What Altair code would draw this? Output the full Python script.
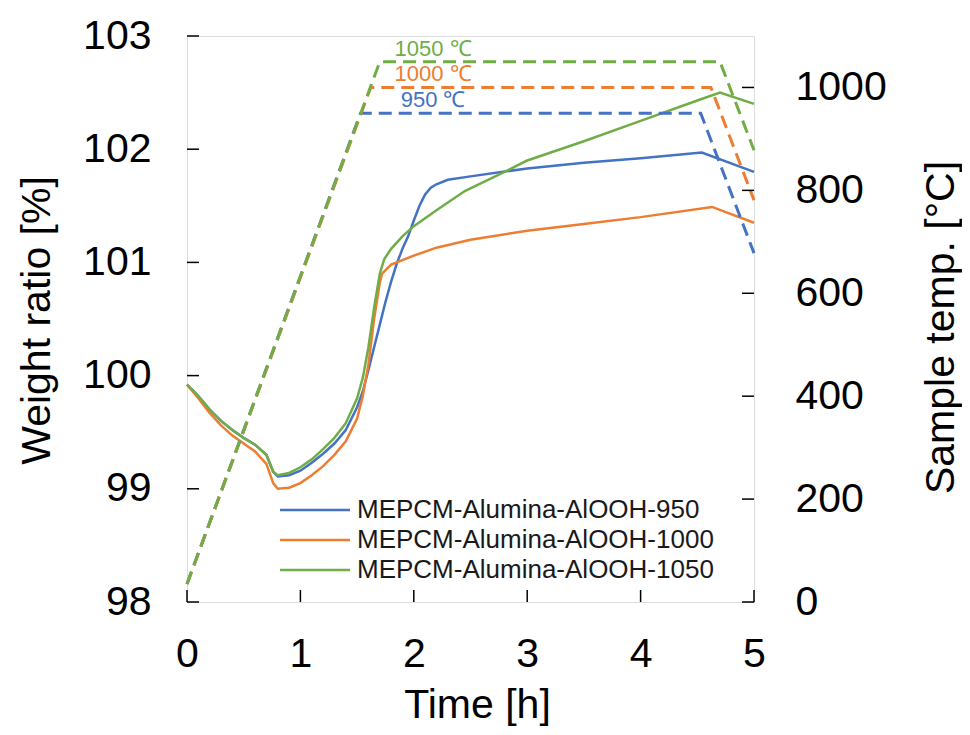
import altair as alt
import pandas as pd

# ---------------- data ----------------
series = ["MEPCM-Alumina-AlOOH-950", "MEPCM-Alumina-AlOOH-1000", "MEPCM-Alumina-AlOOH-1050"]
colors = ["#4472C4", "#ED7D31", "#70AD47"]

# weight ratio curves (time [h], weight [%])
t_950 = [0, 0.1, 0.2, 0.3, 0.4, 0.5, 0.6, 0.7, 0.76, 0.8, 0.9, 1.0, 1.1, 1.2, 1.3, 1.4, 1.5, 1.55,
         1.6, 1.65, 1.7, 1.75, 1.8, 1.85, 1.9, 1.95, 2.0, 2.05, 2.1, 2.15, 2.2, 2.3, 2.5, 3.0, 3.5,
         4.0, 4.54, 5.0]
w_950 = [99.92, 99.82, 99.70, 99.60, 99.52, 99.45, 99.39, 99.30, 99.15, 99.11, 99.12, 99.16, 99.23,
         99.31, 99.40, 99.52, 99.72, 99.86, 100.05, 100.25, 100.45, 100.65, 100.83, 100.99, 101.12,
         101.23, 101.37, 101.50, 101.60, 101.66, 101.69, 101.73, 101.76, 101.83, 101.88, 101.92,
         101.97, 101.80]

t_1000 = [0, 0.1, 0.2, 0.3, 0.4, 0.5, 0.6, 0.7, 0.76, 0.8, 0.9, 1.0, 1.1, 1.2, 1.3, 1.4, 1.5, 1.55,
          1.6, 1.65, 1.7, 1.72, 1.8, 1.9, 2.0, 2.2, 2.5, 3.0, 3.5, 4.0, 4.63, 5.0]
w_1000 = [99.92, 99.80, 99.67, 99.56, 99.47, 99.40, 99.33, 99.22, 99.05, 99.00, 99.01, 99.05,
          99.12, 99.20, 99.30, 99.42, 99.62, 99.82, 100.10, 100.50, 100.82, 100.90, 100.98,
          101.02, 101.06, 101.13, 101.20, 101.28, 101.34, 101.40, 101.49, 101.35]

t_1050 = [0, 0.1, 0.2, 0.3, 0.4, 0.5, 0.6, 0.7, 0.76, 0.8, 0.9, 1.0, 1.1, 1.2, 1.3, 1.4, 1.5, 1.55,
          1.6, 1.65, 1.7, 1.74, 1.8, 1.9, 2.0, 2.2, 2.45, 2.8, 3.0, 3.5, 4.0, 4.5, 4.7, 5.0]
w_1050 = [99.92, 99.82, 99.70, 99.60, 99.52, 99.45, 99.39, 99.30, 99.15, 99.12, 99.14, 99.19,
          99.26, 99.35, 99.45, 99.58, 99.80, 99.98, 100.25, 100.60, 100.90, 101.03, 101.12,
          101.23, 101.32, 101.46, 101.63, 101.80, 101.90, 102.07, 102.25, 102.43, 102.50, 102.40]

# temperature programs (time [h], sample temp [°C])
tt_950 = [0, 1.53, 4.53, 5.0]
T_950 = [35, 950, 950, 678]
tt_1000 = [0, 1.62, 4.62, 5.0]
T_1000 = [35, 1000, 1000, 781]
tt_1050 = [0, 1.70, 4.70, 5.0]
T_1050 = [35, 1050, 1050, 878]

hold_labels = ["950 ℃", "1000 ℃", "1050 ℃"]
hold_temps = [950, 1000, 1050]
hold_label_time = [2.17, 2.17, 2.17]

x_ticks = [0, 1, 2, 3, 4, 5]
w_ticks = [98, 99, 100, 101, 102, 103]
T_ticks = [0, 200, 400, 600, 800, 1000]

# ---------------- tables ----------------
wdf = pd.concat([
    pd.DataFrame({"t": t_950, "w": w_950, "series": series[0]}),
    pd.DataFrame({"t": t_1000, "w": w_1000, "series": series[1]}),
    pd.DataFrame({"t": t_1050, "w": w_1050, "series": series[2]}),
], ignore_index=True)
tdf = pd.concat([
    pd.DataFrame({"t": tt_950, "T": T_950, "series": series[0]}),
    pd.DataFrame({"t": tt_1000, "T": T_1000, "series": series[1]}),
    pd.DataFrame({"t": tt_1050, "T": T_1050, "series": series[2]}),
], ignore_index=True)
adf = pd.DataFrame({"t": hold_label_time, "T": hold_temps, "label": hold_labels, "series": series})
xtick_df = pd.DataFrame({"t": x_ticks})
wtick_df = pd.DataFrame({"w": w_ticks})
Ttick_df = pd.DataFrame({"T": T_ticks})
ldf = pd.DataFrame({"series": series})

# ---------------- encodings ----------------
FONT = "Liberation Sans"
W, H = 567, 566

x_axis = alt.Axis(orient="bottom", values=x_ticks, grid=False, ticks=False, domain=False,
                  labelFont=FONT, labelFontSize=41, labelColor="black", labelPadding=32,
                  labelFlush=False, title="Time [h]", titleFont=FONT, titleFontSize=41,
                  titleFontWeight="normal", titleColor="black", titleX=290, titleY=115,
                  titleAlign="center", titleBaseline="alphabetic")
left_axis = alt.Axis(orient="left", values=w_ticks, grid=False, ticks=False, domain=False,
                     labelFont=FONT, labelFontSize=41, labelColor="black", labelPadding=36,
                     labelFlush=False, title="Weight ratio [%]", titleFont=FONT, titleFontSize=41,
                     titleFontWeight="normal", titleColor="black", titleAngle=270,
                     titleX=-138, titleY=284, titleAlign="center", titleBaseline="alphabetic")
right_axis = alt.Axis(orient="right", values=T_ticks, format="d", grid=False, ticks=False,
                      domain=False, labelFont=FONT, labelFontSize=41, labelColor="black",
                      labelPadding=41, labelFlush=False, title="Sample temp. [°C]", titleFont=FONT,
                      titleFontSize=41, titleFontWeight="normal", titleColor="black",
                      titleAngle=270, titleX=199, titleY=291, titleAlign="center",
                      titleBaseline="alphabetic")

x_enc = alt.X("t:Q", scale=alt.Scale(domain=[0, 5], nice=False, zero=False), axis=x_axis)
yw = alt.Y("w:Q", scale=alt.Scale(domain=[98, 103], nice=False, zero=False), axis=left_axis)
yT = alt.Y("T:Q", scale=alt.Scale(domain=[0, 1100], nice=False, zero=False), axis=right_axis)
color = alt.Color("series:N", scale=alt.Scale(domain=series, range=colors), legend=None)

# ---------------- layers ----------------
weight_lines = alt.Chart(wdf).mark_line(strokeWidth=2.5).encode(x=x_enc, y=yw, color=color)
left_ticks = alt.Chart(wtick_df).mark_rule(color="black", strokeWidth=1.5).encode(
    y=yw, x=alt.value(0), x2=alt.value(12))
bottom_ticks = alt.Chart(xtick_df).mark_rule(color="black", strokeWidth=1.5).encode(
    x=x_enc, y=alt.value(H - 12), y2=alt.value(H))
layer_w = alt.layer(weight_lines, left_ticks, bottom_ticks)

temp_lines = alt.Chart(tdf).mark_line(strokeWidth=3, strokeDash=[13, 7]).encode(
    x=x_enc, y=yT, color=color)
right_ticks = alt.Chart(Ttick_df).mark_rule(color="black", strokeWidth=1.5).encode(
    y=yT, x=alt.value(W - 12), x2=alt.value(W))
annot = alt.Chart(adf).mark_text(font="Liberation Sans Narrow, Liberation Sans", fontSize=22,
                                 dy=-13, align="center", baseline="middle").encode(
    x=x_enc, y=yT, text="label:N", color=color)
layer_T = alt.layer(temp_lines, right_ticks, annot)

yl = alt.Y("series:N", scale=alt.Scale(type="point", domain=series, range=[474, 534], padding=0),
           axis=None)
legend_lines = alt.Chart(ldf).mark_rule(strokeWidth=2.5).encode(
    x=alt.value(93), x2=alt.value(163), y=yl, color=color)
legend_text = alt.Chart(ldf).mark_text(font=FONT, fontSize=26, align="left", baseline="middle",
                                       color="#1a1a1a").encode(
    x=alt.value(170), y=yl, text="series:N")
layer_leg = alt.layer(legend_lines, legend_text)

chart = alt.layer(layer_w, layer_T, layer_leg).resolve_scale(y="independent").properties(
    width=W, height=H,
    autosize=alt.AutoSizeParams(type="none"),
    padding={"left": 179, "top": 28, "right": 208, "bottom": 124},
).configure_view(stroke="black", strokeWidth=1.5).configure(background="white")

chart.save("out.html", embed_options={"renderer": "svg", "actions": False})
